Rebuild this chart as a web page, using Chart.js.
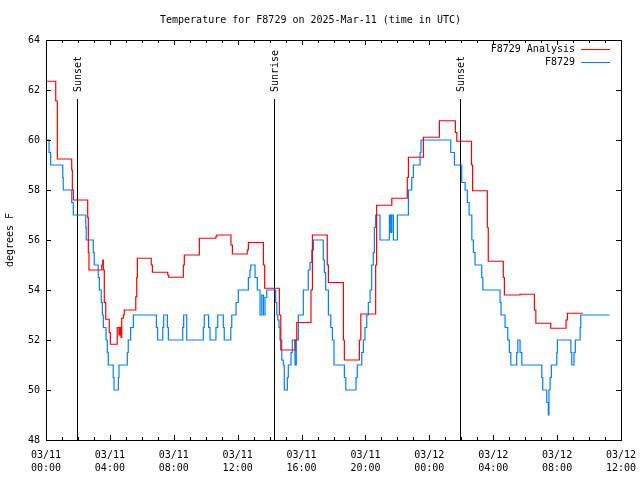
<!DOCTYPE html>
<html>
<head>
<meta charset="utf-8">
<script src="https://cdn.jsdelivr.net/npm/chart.js@4.4.1/dist/chart.umd.min.js"></script>
<style>
  html, body { margin: 0; padding: 0; background: #fff; }
  canvas { display: block; }
</style>
</head>
<body>
<canvas id="myChart" width="640" height="480"></canvas>
<script>
// time is hours since 03/11 00:00 UTC, values in degrees F
var analysisHours = [0.00, 0.61, 0.71, 1.61, 1.65, 1.71, 2.61, 2.65, 2.69, 3.49, 3.55, 3.59, 3.65, 3.74, 3.96, 4.03,
    4.46, 4.57, 4.63, 4.70, 4.74, 4.84, 4.90, 5.62, 5.68, 5.72, 6.59, 6.66, 7.62, 7.68, 8.60, 8.66, 9.60, 10.63,
    10.69, 11.58, 11.67, 12.60, 12.67, 13.61, 13.69, 14.61, 14.70, 15.59, 15.70, 16.59, 16.68, 17.61, 17.68,
    18.62, 18.68, 19.62, 19.71, 20.64, 20.70, 21.65, 22.62, 22.69, 23.63, 24.63, 25.63, 25.72, 26.64, 26.71,
    27.63, 27.69, 28.63, 28.70, 29.68, 30.58, 30.67, 31.60, 32.56, 32.65, 33.61];
var analysisTemps = [62.35, 61.56, 59.24, 58.8, 58.0, 57.6, 56.9, 55.5, 54.8, 55.0, 55.2, 54.8, 53.5, 52.83, 52.3, 51.83,
    52.5, 52.2, 52.5, 52.1, 52.87, 53.0, 53.2, 53.73, 54.5, 55.27, 55.0, 54.71, 54.6, 54.51, 55.0, 55.4, 56.07, 56.13,
    56.2, 55.8, 55.44, 55.6, 55.9, 55.0, 54.07, 53.0, 51.6, 52.0, 52.7, 54.0, 56.2, 55.0, 54.3,
    52.0, 51.2, 52.0, 53.04, 55.0, 57.39, 57.67, 58.5, 59.31, 60.11, 60.77, 60.3, 59.95, 59.0, 57.97,
    56.5, 55.15, 54.5, 53.8, 53.83, 53.2, 52.67, 52.47, 52.8, 53.07, 53.07];

var obsHours = [0.00, 0.19, 0.29, 1.05, 1.08, 1.61, 1.71, 2.49, 2.52, 2.96, 3.02, 3.27, 3.34, 3.46, 3.53, 3.59, 3.76,
    3.84, 3.90, 4.21, 4.26, 4.53, 4.57, 5.09, 5.15, 5.30, 5.47, 6.91, 6.99, 7.31, 7.37, 7.60, 7.66, 8.56, 8.62,
    8.81, 9.85, 9.91, 10.18, 10.27, 10.64, 10.75, 11.10, 11.16, 11.57, 11.63, 11.90, 12.04, 12.67, 12.77, 12.82,
    13.09, 13.23, 13.40, 13.51, 13.61, 13.71, 13.82, 14.38, 14.45, 14.51, 14.59, 14.65, 14.76, 14.86, 14.92,
    15.11, 15.17, 15.34, 15.42, 15.59, 15.67, 15.80, 16.11, 16.42, 16.53, 16.64, 16.74, 17.36, 17.43, 17.51,
    17.68, 17.83, 17.93, 18.03, 18.68, 18.77, 19.41, 19.49, 19.77, 19.87, 19.97, 20.08, 20.18, 20.29, 20.39,
    20.49, 20.56, 20.64, 20.91, 21.50, 21.58, 21.65, 21.75, 22.00, 22.69, 22.90, 23.00, 23.42, 23.48, 25.34,
    25.57, 26.03, 26.24, 26.38, 26.49, 26.66, 26.76, 26.86, 27.28, 27.35, 28.43, 28.49, 28.74, 28.91, 29.01,
    29.10, 29.47, 29.54, 29.68, 29.79, 31.04, 31.10, 31.35, 31.45, 31.49, 31.56, 31.64, 31.98, 32.02, 32.86,
    32.92, 33.06, 33.14, 33.44, 33.48, 35.29];
var obsTemps = [60.0, 59.5, 59.0, 58.5, 58.0, 57.5, 57.0, 56.5, 56.0, 55.5, 55.0, 54.5, 54.0, 53.5, 53.0, 52.5, 52.0,
    51.5, 51.0, 50.5, 50.0, 50.5, 51.0, 51.5, 52.0, 52.5, 53.0, 52.5, 52.0, 52.5, 53.0, 52.5, 52.0, 52.5, 53.0,
    52.0, 52.5, 53.0, 52.5, 52.0, 52.5, 53.0, 52.5, 52.0, 52.5, 53.0, 53.5, 54.0, 54.5, 54.8, 55.0,
    54.5, 54.0, 53.0, 53.8, 53.0, 53.7, 54.0, 53.5, 53.0, 52.8, 52.5, 52.0, 51.2, 51.0, 50.0,
    50.5, 51.0, 51.5, 52.0, 51.0, 52.0, 53.0, 54.0, 54.8, 55.1, 55.6, 56.0, 55.2, 54.7, 54.0,
    53.0, 52.5, 52.0, 51.0, 50.5, 50.0, 50.5, 51.0, 51.5, 52.0, 52.5, 53.0, 53.5, 54.0, 55.0,
    55.5, 56.5, 57.0, 56.0, 57.0, 56.3, 57.0, 56.0, 57.0, 58.0, 58.5, 59.0, 59.5, 60.0, 59.5,
    59.0, 58.3, 58.0, 57.5, 57.0, 56.0, 55.5, 55.0, 54.5, 54.0, 53.5, 53.0, 52.5, 52.0, 51.5,
    51.0, 51.5, 52.0, 51.5, 51.0, 50.5, 50.0, 49.5, 49.0, 50.0, 50.5, 51.0, 51.5, 52.0, 51.5,
    51.0, 51.5, 52.0, 52.5, 53.0, 53.0];

var xTickLabels = [['03/11', '00:00'], ['03/11', '04:00'], ['03/11', '08:00'], ['03/11', '12:00'], ['03/11', '16:00'],
    ['03/11', '20:00'], ['03/12', '00:00'], ['03/12', '04:00'], ['03/12', '08:00'], ['03/12', '12:00']];
var yMin = 48, yMax = 64, yStep = 2;

var sunHours = [1.96, 14.3, 25.94];
var sunLabels = ['Sunset', 'Sunrise', 'Sunset'];

function toPoints(xs, ys) {
    var pts = [];
    for (var i = 0; i < xs.length; i++) pts.push({ x: xs[i], y: ys[i] });
    return pts;
}

// frame, inward tics, sun markers and legend in gnuplot style
var gnuplotDecor = {
    id: 'gnuplotDecor',
    beforeDatasetsDraw: function (chart) {
        var ctx = chart.ctx, xs = chart.scales.x, a = chart.chartArea;
        ctx.save();
        ctx.strokeStyle = '#000';
        ctx.lineWidth = 1;
        ctx.fillStyle = '#000';
        ctx.font = '10px "DejaVu Sans Mono"';
        for (var i = 0; i < sunHours.length; i++) {
            var px = Math.round(xs.getPixelForValue(sunHours[i])) + 0.5;
            ctx.beginPath();
            ctx.moveTo(px, 99);
            ctx.lineTo(px, a.bottom);
            ctx.stroke();
            ctx.save();
            ctx.translate(px, 92);
            ctx.rotate(-Math.PI / 2);
            ctx.textAlign = 'left';
            ctx.textBaseline = 'middle';
            ctx.fillText(sunLabels[i], 0, 1);
            ctx.restore();
        }
        ctx.restore();
    },
    afterDraw: function (chart) {
        var ctx = chart.ctx, xs = chart.scales.x, ys = chart.scales.y, a = chart.chartArea;
        ctx.save();
        ctx.strokeStyle = '#000';
        ctx.lineWidth = 1;
        ctx.strokeRect(Math.round(a.left) + 0.5, Math.round(a.top) + 0.5,
            Math.round(a.right - a.left), Math.round(a.bottom - a.top));
        ctx.beginPath();
        for (var h = xs.min; h <= xs.max; h++) {
            var px = Math.round(xs.getPixelForValue(h)) + 0.5;
            var len = (h % 4 === 0) ? 5 : 3;
            ctx.moveTo(px, a.bottom); ctx.lineTo(px, a.bottom - len);
            ctx.moveTo(px, a.top); ctx.lineTo(px, a.top + len);
        }
        for (var v = yMin; v <= yMax; v += yStep) {
            var py = Math.round(ys.getPixelForValue(v)) + 0.5;
            ctx.moveTo(a.left, py); ctx.lineTo(a.left + 5, py);
            ctx.moveTo(a.right, py); ctx.lineTo(a.right - 5, py);
        }
        ctx.stroke();

        // legend, top right
        ctx.font = '10px "DejaVu Sans Mono"';
        ctx.textAlign = 'right';
        ctx.textBaseline = 'middle';
        ctx.fillStyle = '#000';
        chart.data.datasets.forEach(function (ds, i) {
            var y = 49 + i * 13;
            ctx.fillText(ds.label, 575, y);
            ctx.strokeStyle = ds.borderColor;
            ctx.beginPath();
            ctx.moveTo(581, y + 0.5);
            ctx.lineTo(610, y + 0.5);
            ctx.stroke();
        });
        ctx.restore();
    }
};

Chart.defaults.font.family = '"DejaVu Sans Mono"';
Chart.defaults.font.size = 10;
Chart.defaults.color = '#000';

var ctx = document.getElementById('myChart').getContext('2d');
new Chart(ctx, {
    type: 'line',
    data: {
        datasets: [{
            label: 'F8729 Analysis',
            data: toPoints(analysisHours, analysisTemps),
            borderColor: '#ff0000',
            borderWidth: 1.2,
            stepped: true,
            pointRadius: 0,
            fill: false
        }, {
            label: 'F8729',
            data: toPoints(obsHours, obsTemps),
            borderColor: '#0080ff',
            borderWidth: 1.2,
            stepped: true,
            pointRadius: 0,
            fill: false
        }]
    },
    options: {
        responsive: false,
        animation: false,
        layout: { padding: { left: 0, right: 19, top: 0, bottom: 0 } },
        plugins: {
            legend: { display: false },
            tooltip: { enabled: false },
            title: {
                display: true,
                text: 'Temperature for F8729 on 2025-Mar-11 (time in UTC)',
                font: { size: 10, weight: 'normal', lineHeight: 1.2 },
                padding: { top: 14, bottom: 14 }
            }
        },
        scales: {
            x: {
                type: 'linear',
                min: 0,
                max: 36,
                grid: { display: false, drawTicks: false },
                border: { display: false },
                ticks: {
                    stepSize: 4,
                    autoSkip: false,
                    maxRotation: 0,
                    padding: 9,
                    font: { lineHeight: 1.3 },
                    callback: function (value) { return xTickLabels[Math.round(value / 4)]; }
                },
                afterFit: function (s) { s.height = 40; s.paddingLeft = 0; s.paddingRight = 0; }
            },
            y: {
                min: yMin,
                max: yMax,
                grid: { display: false, drawTicks: false },
                border: { display: false },
                ticks: { stepSize: yStep, padding: 6 },
                title: { display: true, text: 'degrees F', padding: { top: 4, bottom: 0 } },
                afterFit: function (s) { s.width = 46; }
            }
        }
    },
    plugins: [gnuplotDecor]
});
</script>
</body>
</html>
